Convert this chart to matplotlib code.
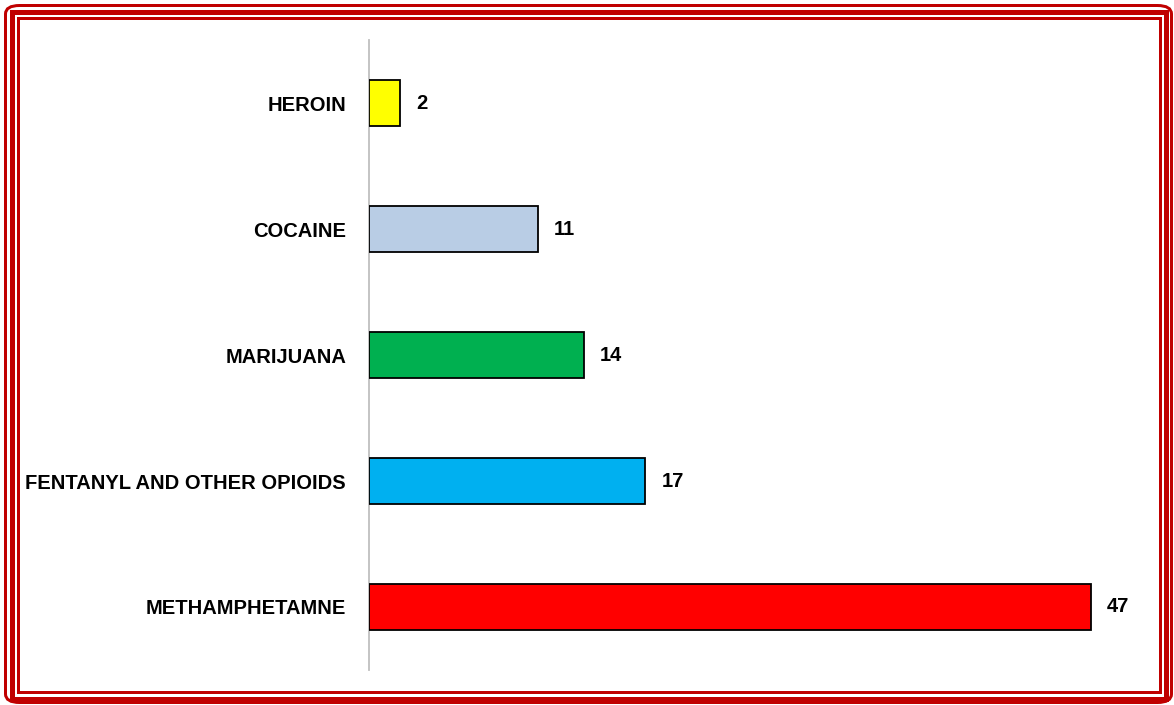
import matplotlib.pyplot as plt
from matplotlib.patches import FancyBboxPatch, Rectangle

categories = ['METHAMPHETAMNE', 'FENTANYL AND OTHER OPIOIDS', 'MARIJUANA', 'COCAINE', 'HEROIN']
# bar lengths as drawn in the picture (the fentanyl bar reaches 18 though labelled 17)
values = [47, 18, 14, 11, 2]
value_labels = ['47', '17', '14', '11', '2']
colors = ['#FF0000', '#00B0F0', '#00B050', '#B9CDE5', '#FFFF00']

W, H = 1174, 705
fig = plt.figure(figsize=(W / 100, H / 100), dpi=100)
ax = fig.add_axes([369 / W, 1 - 670 / H, (1137 - 369) / W, (670 - 40) / H])

ax.barh(range(len(categories)), values, height=0.36, color=colors,
        edgecolor='black', linewidth=1.3, zorder=3)
for i, v in enumerate(values):
    ax.text(v + 1.05, i, value_labels[i], va='center', ha='left',
            fontsize=14.5, fontweight='bold', family='Liberation Sans')

ax.set_xlim(0, 50)
ax.set_ylim(-0.5, len(categories) - 0.5)
ax.set_yticks(range(len(categories)))
ax.set_yticklabels(categories, fontsize=14.5, fontweight='bold', family='Liberation Sans')
ax.tick_params(axis='y', length=0, pad=16.5)
ax.set_xticks([])
for s in ['top', 'right', 'bottom']:
    ax.spines[s].set_visible(False)
ax.spines['left'].set_color('#BFBFBF')
ax.spines['left'].set_linewidth(1.3)

red = '#C00000'


def frame(x0, y0, x1, y1, lw, rounded=False):
    # pixel coords, top-left origin
    px = 72 / 100
    if rounded:
        p = FancyBboxPatch((x0 / W, 1 - y1 / H), (x1 - x0) / W, (y1 - y0) / H,
                           boxstyle='round,pad=0,rounding_size=0.012',
                           transform=fig.transFigure, fill=False,
                           edgecolor=red, linewidth=lw * px)
    else:
        p = Rectangle((x0 / W, 1 - y1 / H), (x1 - x0) / W, (y1 - y0) / H,
                      transform=fig.transFigure, fill=False,
                      edgecolor=red, linewidth=lw * px)
    fig.add_artist(p)


frame(5.5, 5.5, 1171.5, 702.5, 3, rounded=True)
frame(11.5, 11.5, 1165.5, 699, 5)
frame(17.5, 17.5, 1160, 692, 3)

fig.savefig('out.png', dpi=100)
